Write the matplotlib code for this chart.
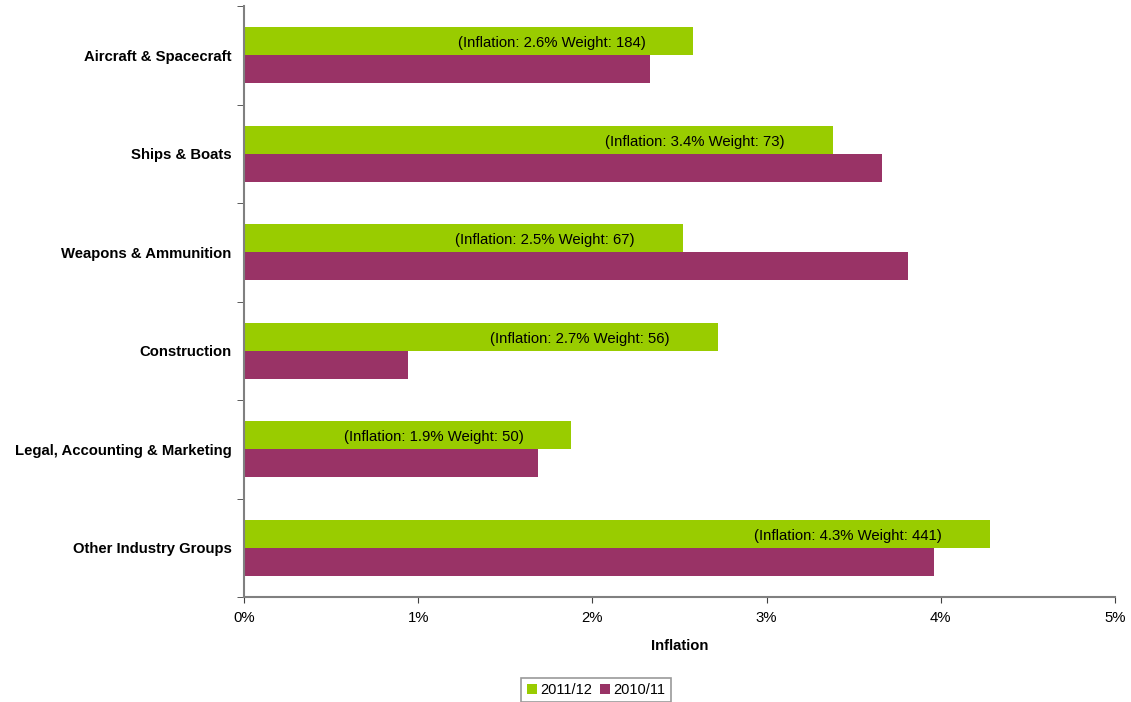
import numpy as np
import matplotlib.pyplot as plt
from matplotlib.ticker import PercentFormatter

plt.rcParams['font.family'] = ['Liberation Sans', 'DejaVu Sans']

categories = ['Aircraft & Spacecraft', 'Ships & Boats', 'Weapons & Ammunition',
              'Construction', 'Legal, Accounting & Marketing', 'Other Industry Groups']
infl_2011 = [2.58, 3.38, 2.52, 2.72, 1.88, 4.28]
infl_2010 = [2.33, 3.66, 3.81, 0.94, 1.69, 3.96]
label_infl = ['2.6%', '3.4%', '2.5%', '2.7%', '1.9%', '4.3%']
weights = [184, 73, 67, 56, 50, 441]

green = '#99CC00'
purple = '#993366'

fig = plt.figure(figsize=(11.31, 7.02), dpi=100)
ax = fig.add_axes([244/1131, 1-597/702, (1115-244)/1131, (597-6)/702])

y = np.arange(len(categories))
h = 0.285
ax.barh(y - h/2, infl_2011, height=h, color=green, label='2011/12')
ax.barh(y + h/2, infl_2010, height=h, color=purple, label='2010/11')

# labels sit inside the green bars, right aligned a bit short of the end
for i in range(len(categories)):
    ax.annotate('(Inflation: %s Weight: %d)' % (label_infl[i], weights[i]),
                xy=(infl_2011[i], y[i] - h/2), xytext=(-48, -2),
                textcoords='offset pixels', ha='right', va='center', fontsize=10.7)

ax.set_ylim(len(categories) - 0.5, -0.5)
ax.set_xlim(0, 5)
ax.set_yticks(y)
ax.set_yticklabels(categories, fontweight='bold', fontsize=10.7)
ax.tick_params(axis='y', which='major', length=0, pad=9)
ax.set_yticks(np.arange(-0.5, len(categories), 1), minor=True)
ax.tick_params(axis='y', which='minor', length=5, direction='out', color='#404040')

ax.set_xticks(np.arange(0, 6, 1))
ax.xaxis.set_major_formatter(PercentFormatter(decimals=0))
ax.tick_params(axis='x', length=4, direction='out', labelsize=10.7, pad=6, color='#404040')
ax.set_xlabel('Inflation', fontweight='bold', fontsize=10.7, labelpad=10)

for s in ['top', 'right']:
    ax.spines[s].set_visible(False)
for s in ['left', 'bottom']:
    ax.spines[s].set_color('#808080')
    ax.spines[s].set_linewidth(1.5)

leg = fig.legend(loc='center', bbox_to_anchor=(596/1131, 1-690/702), ncol=2,
                 fontsize=10.5, frameon=True, fancybox=False, handlelength=0.7,
                 handleheight=0.7, handletextpad=0.25, columnspacing=0.5,
                 borderpad=0.35, edgecolor='#808080')
leg.get_frame().set_linewidth(1.2)

fig.savefig('out.png', dpi=100)
